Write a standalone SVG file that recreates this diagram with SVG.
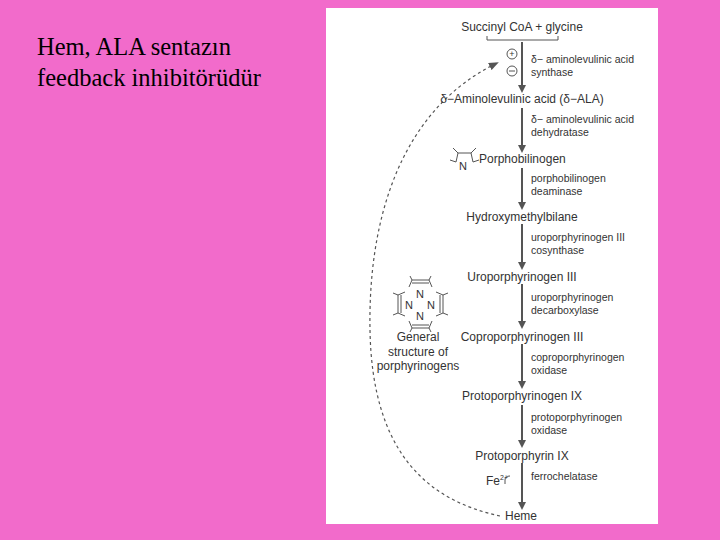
<svg xmlns="http://www.w3.org/2000/svg" width="720" height="540" viewBox="0 0 720 540">
<defs>
<style>
.t{font-family:"Liberation Sans",Arial,sans-serif;fill:#333;}
.m{font-size:12px;text-anchor:middle}
.e{font-size:10.5px}
.ttl{font-family:"Liberation Serif","Times New Roman",serif;font-size:24.5px;fill:#000}
.ar{stroke:#555;stroke-width:2;marker-end:url(#ah)}
.st{stroke:#555;stroke-width:1;fill:none}
</style>
<marker id="ah" markerWidth="8" markerHeight="8" refX="6" refY="4" orient="auto" markerUnits="userSpaceOnUse"><path d="M0,0 L8,4 L0,8 z" fill="#555"/></marker>
<marker id="ah2" markerWidth="10" markerHeight="8" refX="8" refY="4" orient="auto" markerUnits="userSpaceOnUse"><path d="M0,0 L10,4 L0,8 z" fill="#555"/></marker>
</defs>
<rect width="720" height="540" fill="#F26BCB"/>
<rect x="326" y="8" width="332" height="516" fill="#fff"/>
<g id="title"><text class="ttl" x="37" y="55">Hem, ALA sentazın</text><text class="ttl" x="37" y="86">feedback inhibitörüdür</text></g>
<g id="connectors">
<path class="st" d="M487,36 V40 H558 V36"/>
<line class="ar" x1="522" y1="42" x2="522" y2="91"/>
<line class="ar" x1="522" y1="108" x2="522" y2="151"/>
<line class="ar" x1="522" y1="168" x2="522" y2="208"/>
<line class="ar" x1="522" y1="224" x2="522" y2="268"/>
<line class="ar" x1="522" y1="284" x2="522" y2="327"/>
<line class="ar" x1="522" y1="344" x2="522" y2="387"/>
<line class="ar" x1="522" y1="405" x2="522" y2="446"/>
<line class="ar" x1="522" y1="463" x2="522" y2="508"/>
<path class="st" d="M510,476 q-5,0 -5,4 v4"/>
<path d="M500,516 C425,500 372,450 370,330 C368,220 400,110 497,63" fill="none" stroke="#555" stroke-width="1.2" stroke-dasharray="3,3" marker-end="url(#ah2)"/>
</g>
<g id="reg"><circle cx="512" cy="54" r="5" class="st"/><text class="t" x="512" y="57" font-size="9" text-anchor="middle">+</text><circle cx="512" cy="71" r="5" class="st"/><line x1="509" y1="71" x2="515" y2="71" stroke="#555"/></g>
<g id="n1"><text class="t m" x="522" y="31">Succinyl CoA + glycine</text></g>
<g id="e1"><text class="t e" x="531" y="63">δ− aminolevulinic acid</text><text class="t e" x="531" y="76">synthase</text></g>
<g id="n2"><text class="t m" x="522" y="103">δ−Aminolevulinic acid (δ−ALA)</text></g>
<g id="e2"><text class="t e" x="531" y="123">δ− aminolevulinic acid</text><text class="t e" x="531" y="136">dehydratase</text></g>
<g id="n3"><text class="t" x="479" y="163" font-size="12">Porphobilinogen</text>
<path class="st" d="M453,148 L458,153 H471 L476,148 M458,153 L456,162 M471,153 L473,162 M450,160 L456,162 M479,160 L473,162"/><text class="t" x="459" y="170" font-size="11">N</text></g>
<g id="e3"><text class="t e" x="531" y="182">porphobilinogen</text><text class="t e" x="531" y="195">deaminase</text></g>
<g id="n4"><text class="t m" x="522" y="221">Hydroxymethylbilane</text></g>
<g id="e4"><text class="t e" x="531" y="241">uroporphyrinogen III</text><text class="t e" x="531" y="254">cosynthase</text></g>
<g id="n5"><text class="t m" x="522" y="281">Uroporphyrinogen III</text></g>
<g id="e5"><text class="t e" x="531" y="301">uroporphyrinogen</text><text class="t e" x="531" y="314">decarboxylase</text></g>
<g id="n6"><text class="t m" x="522" y="341">Coproporphyrinogen III</text></g>
<g id="e6"><text class="t e" x="531" y="361">coproporphyrinogen</text><text class="t e" x="531" y="374">oxidase</text></g>
<g id="n7"><text class="t m" x="522" y="400">Protoporphyrinogen IX</text></g>
<g id="e7"><text class="t e" x="531" y="421">protoporphyrinogen</text><text class="t e" x="531" y="434">oxidase</text></g>
<g id="n8"><text class="t m" x="522" y="460">Protoporphyrin IX</text></g>
<g id="fe"><text class="t" x="486" y="485" font-size="12">Fe<tspan font-size="7" dy="-5">2+</tspan></text></g>
<g id="e8"><text class="t e" x="531" y="480">ferrochelatase</text></g>
<g id="n9"><text class="t m" x="521" y="520">Heme</text></g>
<g id="structure">
<path class="st" d="M412,280 H429 L432,287 M412,280 L409,287 M410,276 L412,280 M431,276 L429,280 M412,283 H429"/>
<path class="st" d="M412,328 H429 L432,321 M412,328 L409,321 M410,332 L412,328 M431,332 L429,328 M412,325 H429"/>
<path class="st" d="M398,295 V313 L405,316 M398,295 L405,292 M393,293 L398,295 M393,315 L398,313 M401,295 V313"/>
<path class="st" d="M443,295 V313 L436,316 M443,295 L436,292 M448,293 L443,295 M448,315 L443,313 M440,295 V313"/>
<text class="t" x="420" y="298" font-size="11" text-anchor="middle">N</text>
<text class="t" x="420" y="320" font-size="11" text-anchor="middle">N</text>
<text class="t" x="409" y="309" font-size="11" text-anchor="middle">N</text>
<text class="t" x="431" y="309" font-size="11" text-anchor="middle">N</text>
<text class="t m" x="418" y="341">General</text><text class="t m" x="418" y="356">structure of</text><text class="t m" x="418" y="370">porphyrinogens</text>
</g>
</svg>
